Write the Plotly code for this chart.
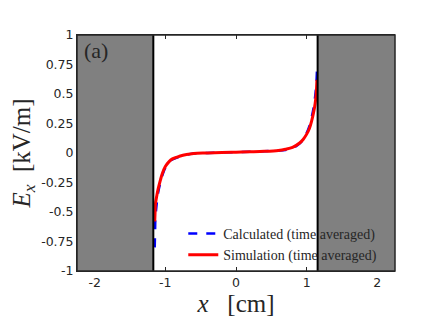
import plotly.graph_objects as go

# Calculated field (time averaged)
x_calc = [-1.15, -1.145, -1.14, -1.12, -1.10, -1.07, -1.04, -1.00, -0.95, -0.90, -0.80, -0.70,
          -0.60, -0.40, -0.20, 0.00, 0.20, 0.40, 0.60, 0.70, 0.80, 0.90, 0.95, 1.00,
          1.04, 1.07, 1.10, 1.12, 1.135, 1.145]
y_calc = [-0.80, -0.66, -0.55, -0.42, -0.33, -0.25, -0.185, -0.125, -0.08, -0.055, -0.03, -0.015,
          -0.005, 0.0, 0.005, 0.008, 0.01, 0.015, 0.02, 0.025, 0.04, 0.08, 0.115, 0.17,
          0.23, 0.30, 0.39, 0.48, 0.57, 0.69]

# Simulation (time averaged)
x_sim = [-1.15, -1.145, -1.14, -1.12, -1.10, -1.07, -1.04, -1.00, -0.95, -0.90, -0.80, -0.70,
         -0.60, -0.40, -0.20, 0.00, 0.20, 0.40, 0.60, 0.70, 0.80, 0.90, 0.95, 1.00,
         1.04, 1.07, 1.10, 1.12, 1.135, 1.145]
y_sim = [-0.58, -0.50, -0.43, -0.36, -0.30, -0.23, -0.17, -0.115, -0.075, -0.05, -0.028, -0.013,
         -0.004, 0.0, 0.004, 0.007, 0.01, 0.014, 0.022, 0.032, 0.048, 0.085, 0.115, 0.16,
         0.21, 0.27, 0.35, 0.42, 0.50, 0.62]

x_range = [-2.25, 2.25]
y_range = [-1, 1]
wall_left = -1.17
wall_right = 1.155

x_ticks = [-2, -1, 0, 1, 2]
y_ticks = [-1, -0.75, -0.5, -0.25, 0, 0.25, 0.5, 0.75, 1]
y_ticktext = ['-1', '-0.75', '-0.5', '-0.25', '0', '0.25', '0.5', '0.75', '1']

serif = "Liberation Serif, DejaVu Serif, serif"
ink = '#262626'

fig = go.Figure()
fig.add_trace(go.Scatter(
    x=x_calc, y=y_calc, mode='lines', name='Calculated (time averaged)',
    line=dict(color='#0000ff', width=2.5, dash='dash', shape='spline')
))
fig.add_trace(go.Scatter(
    x=x_sim, y=y_sim, mode='lines', name='Simulation (time averaged)',
    line=dict(color='#ff0000', width=3, shape='spline')
))

# grey regions outside the walls
for x0, x1 in [(x_range[0], wall_left), (wall_right, x_range[1])]:
    fig.add_shape(type='rect', xref='x', yref='y', x0=x0, x1=x1, y0=-1, y1=1,
                  fillcolor='#808080', line=dict(width=0), layer='above')
for xv in [wall_left, wall_right]:
    fig.add_shape(type='line', xref='x', yref='y', x0=xv, x1=xv, y0=-1, y1=1,
                  line=dict(color='black', width=2), layer='above')
# frame
fig.add_shape(type='rect', xref='paper', yref='paper', x0=0, x1=1, y0=0, y1=1,
              line=dict(color=ink, width=1.5), layer='above')

fig.add_annotation(x=0.015, y=0.995, xref='paper', yref='paper', text='(a)',
                   showarrow=False, xanchor='left', yanchor='top',
                   font=dict(family=serif, size=22, color=ink))

# page body has an 8px margin, so the figure is a little smaller than the window
fig.update_layout(
    width=428, height=319,
    paper_bgcolor='white', plot_bgcolor='white',
    margin=dict(l=67, r=41, t=27, b=56),
    showlegend=True,
    legend=dict(x=0.96, y=0.0, xanchor='right', yanchor='bottom',
                bgcolor='rgba(0,0,0,0)', font=dict(family=serif, size=14, color=ink),
                tracegroupgap=0, itemwidth=30),
    xaxis=dict(range=x_range, tickvals=x_ticks, ticktext=[str(v) for v in x_ticks],
               showgrid=False, zeroline=False, ticks='inside', ticklen=4,
               tickcolor=ink, mirror='ticks', showline=True, linecolor=ink,
               tickfont=dict(family='DejaVu Sans', size=12.5, color=ink),
               title=dict(text='<i>x</i>&nbsp;&nbsp;&nbsp;[cm]',
                          font=dict(family=serif, size=25, color=ink), standoff=4)),
    yaxis=dict(range=y_range, tickvals=y_ticks, ticktext=y_ticktext,
               showgrid=False, zeroline=False, ticks='inside', ticklen=4,
               tickcolor=ink, showline=True, linecolor=ink,
               tickfont=dict(family='DejaVu Sans', size=12.5, color=ink),
               title=dict(text='<i>E<sub>x</sub></i>  [kV/m]',
                          font=dict(family=serif, size=25, color=ink), standoff=4)),
)

fig.write_html("out.html")
